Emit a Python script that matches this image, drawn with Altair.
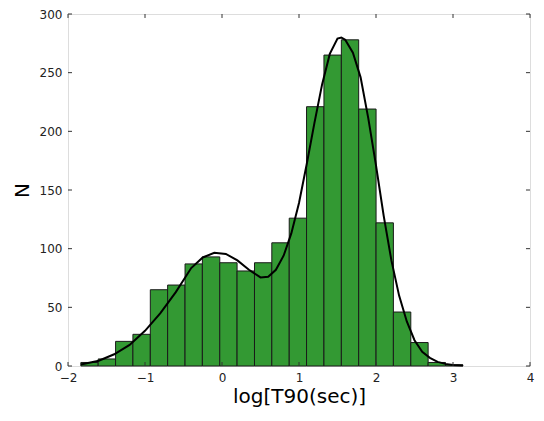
import altair as alt
import pandas as pd

# Histogram bins (left/right edges) and counts
bin_left = [-1.833, -1.608, -1.382, -1.157, -0.931, -0.706, -0.480, -0.255, -0.029, 0.196, 0.422,
            0.647, 0.873, 1.098, 1.324, 1.550, 1.775, 2.001, 2.226, 2.452, 2.677, 2.903]
bin_right = [-1.608, -1.382, -1.157, -0.931, -0.706, -0.480, -0.255, -0.029, 0.196, 0.422, 0.647,
             0.873, 1.098, 1.324, 1.550, 1.775, 2.001, 2.226, 2.452, 2.677, 2.903, 3.128]
counts = [3, 6, 21, 27, 65, 69, 87, 93, 88, 81, 88, 105, 126, 221, 265, 278, 219, 122, 46, 20, 3, 1]

# Fitted curve
curve_x = [-1.833, -1.6, -1.4, -1.2, -1.0, -0.8, -0.6, -0.4, -0.25, -0.1, 0.05, 0.2, 0.35, 0.5, 0.6,
           0.7, 0.8, 0.9, 1.0, 1.1, 1.2, 1.3, 1.4, 1.5, 1.55, 1.6, 1.7, 1.8, 1.9, 2.0, 2.1, 2.2,
           2.3, 2.4, 2.5, 2.6, 2.7, 2.8, 2.9, 3.0, 3.13]
curve_y = [1.3, 4.5, 10, 18, 30, 45, 63, 83.5, 92.5, 96.5, 95.5, 90, 82, 75.5, 76,
           82, 94, 113, 139, 172, 207, 240, 266, 279, 280, 278, 267, 246, 211, 171, 128, 90,
           60, 38, 22, 12, 7, 3.5, 1.8, 0.9, 0.4]

x_ticks = [-2, -1, 0, 1, 2, 3, 4]
y_ticks = [0, 50, 100, 150, 200, 250, 300]

bars_df = pd.DataFrame({"x0": bin_left, "x1": bin_right, "n": counts})
curve_df = pd.DataFrame({"x": curve_x, "y": curve_y})
xt_df = pd.DataFrame({"t": x_ticks})
yt_df = pd.DataFrame({"t": y_ticks})

FONT = "DejaVu Sans"
xscale = alt.Scale(domain=[-2, 4], nice=False, zero=False)
yscale = alt.Scale(domain=[0, 300], nice=False)

xaxis = alt.Axis(values=x_ticks, ticks=False, domain=False, grid=False, labelFont=FONT,
                 labelFontSize=12, labelColor="#222", labelPadding=6, labelFlush=False,
                 title="log[T90(sec)]", titleFont=FONT, titleFontSize=20,
                 titleFontWeight="normal", titleColor="#000", titlePadding=3, format="d")
yaxis = alt.Axis(values=y_ticks, ticks=False, domain=False, grid=False, labelFont=FONT,
                 labelFontSize=12, labelColor="#222", labelPadding=6, labelFlush=False,
                 title="N", titleFont=FONT, titleFontSize=20, titleFontWeight="normal",
                 titleColor="#000", titlePadding=7)

bars = alt.Chart(bars_df).mark_rect(fill="#339933", stroke="#1a1a1a", strokeWidth=1).encode(
    x=alt.X("x0:Q", scale=xscale, axis=xaxis),
    x2="x1:Q",
    y=alt.Y("n:Q", scale=yscale, axis=yaxis),
    y2=alt.datum(0),
)

curve = alt.Chart(curve_df).mark_line(color="black", strokeWidth=2).encode(
    x=alt.X("x:Q", scale=xscale),
    y=alt.Y("y:Q", scale=yscale),
)

tick_len_y = 3.4   # in count units (~4 px)
tick_len_x = 0.052  # in x units (~4 px)

xt_bottom = alt.Chart(xt_df).mark_rule(color="#333", strokeWidth=1).encode(
    x=alt.X("t:Q", scale=xscale), y=alt.datum(0), y2=alt.datum(tick_len_y))
xt_top = alt.Chart(xt_df).mark_rule(color="#333", strokeWidth=1).encode(
    x=alt.X("t:Q", scale=xscale), y=alt.datum(300), y2=alt.datum(300 - tick_len_y))
yt_left = alt.Chart(yt_df).mark_rule(color="#333", strokeWidth=1).encode(
    y=alt.Y("t:Q", scale=yscale), x=alt.datum(-2), x2=alt.datum(-2 + tick_len_x))
yt_right = alt.Chart(yt_df).mark_rule(color="#333", strokeWidth=1).encode(
    y=alt.Y("t:Q", scale=yscale), x=alt.datum(4), x2=alt.datum(4 - tick_len_x))

chart = alt.layer(bars, curve, xt_bottom, xt_top, yt_left, yt_right).properties(
    width=462, height=352,
    autosize=alt.AutoSizeParams(type="none"),
    padding={"left": 60, "top": 6, "right": 6, "bottom": 44},
).configure_view(stroke="#444", strokeWidth=1).configure(background="white")

chart.save("out.html", embed_options={"renderer": "svg", "actions": False})
